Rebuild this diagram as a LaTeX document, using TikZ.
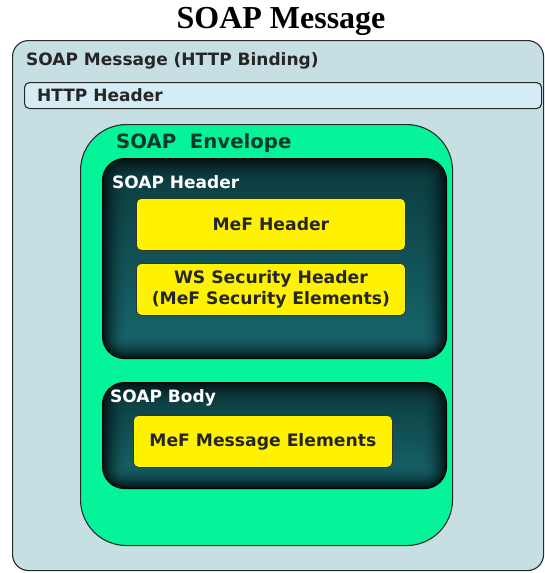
\documentclass[tikz,border=0pt]{standalone}
\usepackage{fontspec}
\usetikzlibrary{fadings}
\setmainfont{Liberation Serif}
\newfontfamily\boxfont{DejaVu Sans}
\definecolor{outerfill}{HTML}{C6DFE3}
\definecolor{httpfill}{HTML}{D5ECF4}
\definecolor{envfill}{HTML}{05F49A}
\definecolor{envtext}{HTML}{0B3A2C}
\definecolor{mefyellow}{HTML}{FFF200}
\definecolor{edge}{HTML}{2A2A2A}
\definecolor{tealc}{HTML}{18696E}
\definecolor{darkc}{HTML}{031416}
\begin{document}
\begin{tikzpicture}[x=1pt,y=-1pt,
  panel/.style={draw=edge, line width=1.1pt, anchor=north west, inner sep=0pt},
  darkpanel/.style={panel, draw=black, rounded corners=22pt,
    path picture={
      \foreach \i in {0,...,26}{
        \pgfmathsetmacro{\p}{100*(1-(1-\i/26)^2)}
        \pgfmathsetmacro{\r}{max(22-\i,3)}
        \fill[tealc!\p!darkc, rounded corners=\r pt]
          ([shift={(\i pt,-\i pt)}]path picture bounding box.north west) rectangle
          ([shift={(-\i pt,\i pt)}]path picture bounding box.south east);
      }
      \fill[darkc, path fading=south, fill opacity=0.55]
        (path picture bounding box.north west) rectangle (path picture bounding box.south east);
    }},
  yellowbox/.style={panel, draw=black!80, line width=0.8pt, fill=mefyellow, rounded corners=5pt, align=center, font=\boxfont\bfseries\fontsize{17.2}{21}\selectfont, text=black!85},
  lbl/.style={anchor=west, inner sep=0pt, font=\boxfont\bfseries\fontsize{17}{20}\selectfont}]
\useasboundingbox (0,0) rectangle (545,573);
\fill[white] (0,0) rectangle (545,573);
\node[font=\bfseries\fontsize{32}{34}\selectfont] (title) at (281,21) {SOAP Message};
\node[panel, fill=outerfill, rounded corners=16pt, minimum width=531pt, minimum height=530pt] (outer) at (12,40) {};
\node[lbl, text=black!85] (outerlbl) at (26,61) {SOAP Message (HTTP Binding)};
\node[panel, fill=httpfill, rounded corners=5pt, minimum width=517pt, minimum height=26pt] (http) at (24,82) {};
\node[lbl, text=black!85] (httplbl) at (37,95) {HTTP Header};
\node[panel, fill=envfill, rounded corners=46pt, minimum width=372pt, minimum height=421pt] (env) at (80,124) {};
\node[lbl, font=\boxfont\bfseries\fontsize{19.7}{22}\selectfont, text=envtext] (envlbl) at (116,143) {SOAP\ \ Envelope};
\node[darkpanel, minimum width=344pt, minimum height=200pt] (sh) at (102,158) {};
\node[lbl, text=white] (shlbl) at (112,182) {SOAP Header};
\node[yellowbox, minimum width=269pt, minimum height=52pt] (mefh) at (136,198) {MeF Header};
\node[yellowbox, minimum width=269pt, minimum height=52pt] (ws) at (136,263) {WS Security Header\\(MeF Security Elements)};
\node[darkpanel, minimum width=344pt, minimum height=106pt] (sb) at (102,382) {};
\node[lbl, text=white] (sblbl) at (110,398) {SOAP Body};
\node[yellowbox, minimum width=259pt, minimum height=52pt] (mefm) at (133,415) {MeF Message Elements};
\end{tikzpicture}
\end{document}
